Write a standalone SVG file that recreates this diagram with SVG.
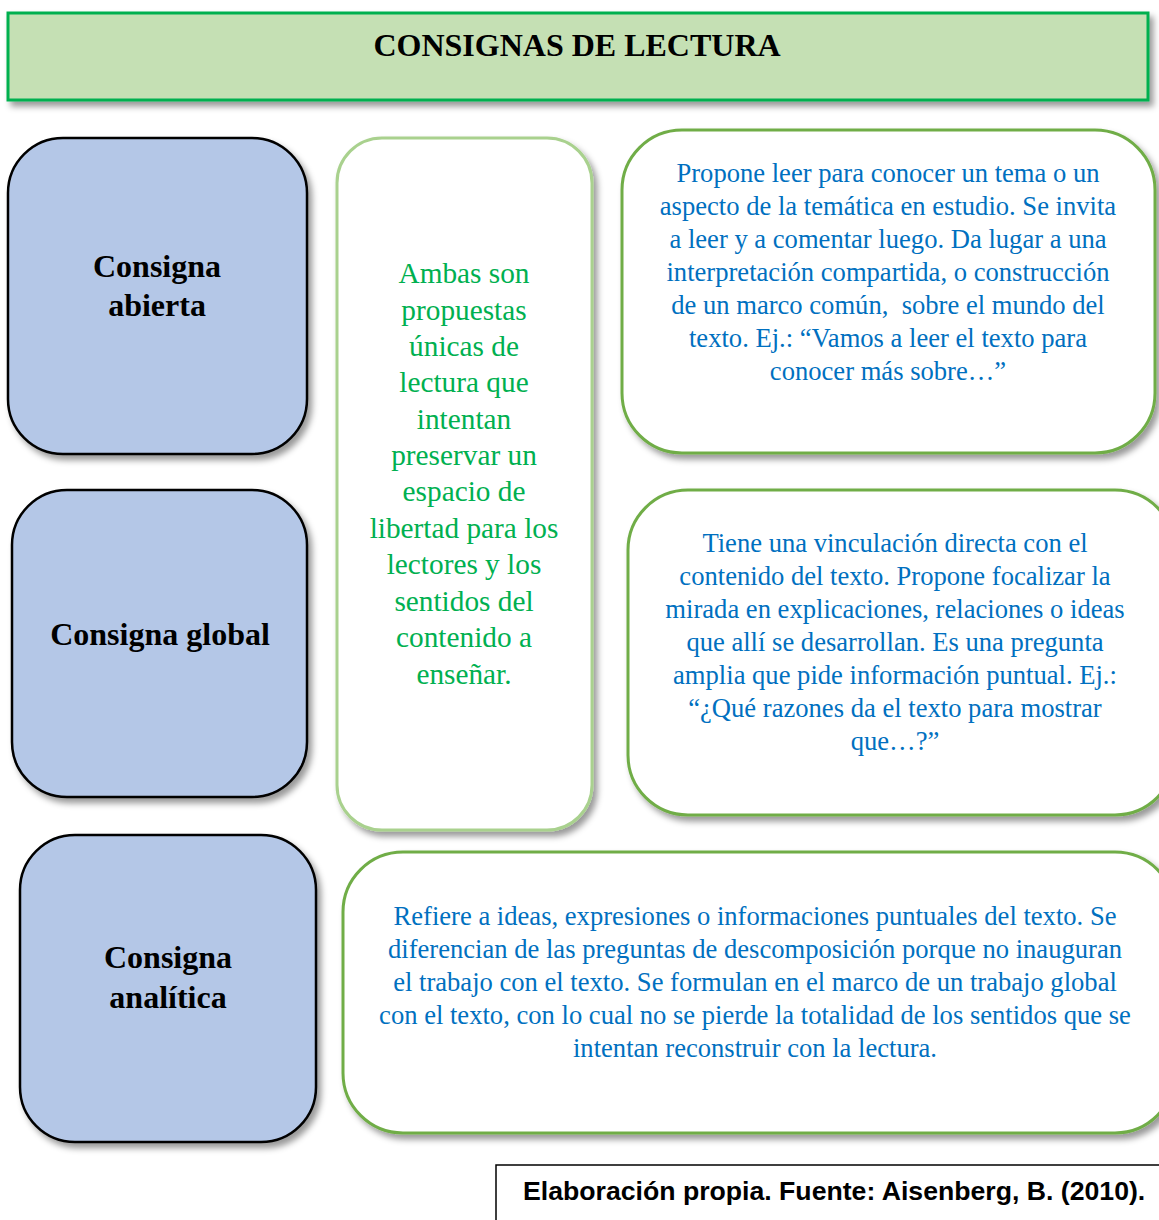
<svg xmlns="http://www.w3.org/2000/svg" width="1159" height="1220" viewBox="0 0 1159 1220">
<style>
.title{font-family:"Liberation Serif",serif;font-weight:bold;font-size:32px;fill:#000;text-anchor:middle}
.lbl{font-family:"Liberation Serif",serif;font-weight:bold;font-size:32px;fill:#000;text-anchor:middle}
.mid{font-family:"Liberation Serif",serif;font-size:29.3px;fill:#00b050;text-anchor:middle}
.desc{font-family:"Liberation Serif",serif;font-size:26.6px;fill:#0070c0;text-anchor:middle}
.foot{font-family:"Liberation Sans",Arial,sans-serif;font-weight:bold;font-size:26.65px;fill:#000}
.blue{fill:#b4c7e7;stroke:#000;stroke-width:2.5}
.gbox{fill:#fff;stroke:#70ad47;stroke-width:3}
.lbox{fill:#fff;stroke:#a9d18e;stroke-width:3}
</style>
<defs>
<filter id="sh" x="-10%" y="-10%" width="125%" height="125%">
<feDropShadow dx="4" dy="5" stdDeviation="3" flood-color="#000" flood-opacity="0.4"/>
</filter>
</defs>
<rect width="1159" height="1220" fill="#fff"/>
<g id="title">
<rect x="8" y="13" width="1140" height="87" fill="#c5e0b4" stroke="#00b050" stroke-width="3" filter="url(#sh)"/>
<text class="title" x="577" y="56">CONSIGNAS DE LECTURA</text>
</g>
<g id="consigna-abierta">
<rect class="blue" x="8" y="138" width="299" height="316" rx="55" filter="url(#sh)"/>
<text class="lbl" x="157" y="277">Consigna</text>
<text class="lbl" x="157" y="316">abierta</text>
</g>
<g id="consigna-global">
<rect class="blue" x="12" y="490" width="295" height="307" rx="55" filter="url(#sh)"/>
<text class="lbl" x="160" y="645">Consigna global</text>
</g>
<g id="consigna-analitica">
<rect class="blue" x="20" y="835" width="296" height="307" rx="55" filter="url(#sh)"/>
<text class="lbl" x="168" y="968">Consigna</text>
<text class="lbl" x="168" y="1008">analítica</text>
</g>
<g id="ambas">
<rect class="lbox" x="337" y="138" width="255" height="692" rx="45" filter="url(#sh)"/>
<text class="mid" x="464" y="283">Ambas son</text>
<text class="mid" x="464" y="320">propuestas</text>
<text class="mid" x="464" y="356">únicas de</text>
<text class="mid" x="464" y="392">lectura que</text>
<text class="mid" x="464" y="429">intentan</text>
<text class="mid" x="464" y="465">preservar un</text>
<text class="mid" x="464" y="501">espacio de</text>
<text class="mid" x="464" y="538">libertad para los</text>
<text class="mid" x="464" y="574">lectores y los</text>
<text class="mid" x="464" y="611">sentidos del</text>
<text class="mid" x="464" y="647">contenido a</text>
<text class="mid" x="464" y="684">enseñar.</text>
</g>
<g id="desc-abierta">
<rect class="gbox" x="622" y="130" width="533" height="323" rx="60" filter="url(#sh)"/>
<text class="desc" x="888" y="182">Propone leer para conocer un tema o un</text>
<text class="desc" x="888" y="215">aspecto de la temática en estudio. Se invita</text>
<text class="desc" x="888" y="248">a leer y a comentar luego. Da lugar a una</text>
<text class="desc" x="888" y="281">interpretación compartida, o construcción</text>
<text class="desc" x="888" y="314" xml:space="preserve">de un marco común,  sobre el mundo del</text>
<text class="desc" x="888" y="347">texto. Ej.: “Vamos a leer el texto para</text>
<text class="desc" x="888" y="380">conocer más sobre…”</text>
</g>
<g id="desc-global">
<rect class="gbox" x="628" y="490" width="547" height="325" rx="60" filter="url(#sh)"/>
<text class="desc" x="895" y="552">Tiene una vinculación directa con el</text>
<text class="desc" x="895" y="585">contenido del texto. Propone focalizar la</text>
<text class="desc" x="895" y="618">mirada en explicaciones, relaciones o ideas</text>
<text class="desc" x="895" y="651">que allí se desarrollan. Es una pregunta</text>
<text class="desc" x="895" y="684">amplia que pide información puntual. Ej.:</text>
<text class="desc" x="895" y="717">“¿Qué razones da el texto para mostrar</text>
<text class="desc" x="895" y="750">que…?”</text>
</g>
<g id="desc-analitica">
<rect class="gbox" x="343" y="852" width="832" height="281" rx="60" filter="url(#sh)"/>
<text class="desc" x="755" y="925">Refiere a ideas, expresiones o informaciones puntuales del texto. Se</text>
<text class="desc" x="755" y="958">diferencian de las preguntas de descomposición porque no inauguran</text>
<text class="desc" x="755" y="991">el trabajo con el texto. Se formulan en el marco de un trabajo global</text>
<text class="desc" x="755" y="1024">con el texto, con lo cual no se pierde la totalidad de los sentidos que se</text>
<text class="desc" x="755" y="1057">intentan reconstruir con la lectura.</text>
</g>
<g id="footer">
<path d="M496,1220 V1165 H1159" fill="none" stroke="#000" stroke-width="1.5"/>
<text class="foot" x="523" y="1200">Elaboración propia. Fuente: Aisenberg, B. (2010).</text>
</g>
<g id="connectors"></g>
</svg>
